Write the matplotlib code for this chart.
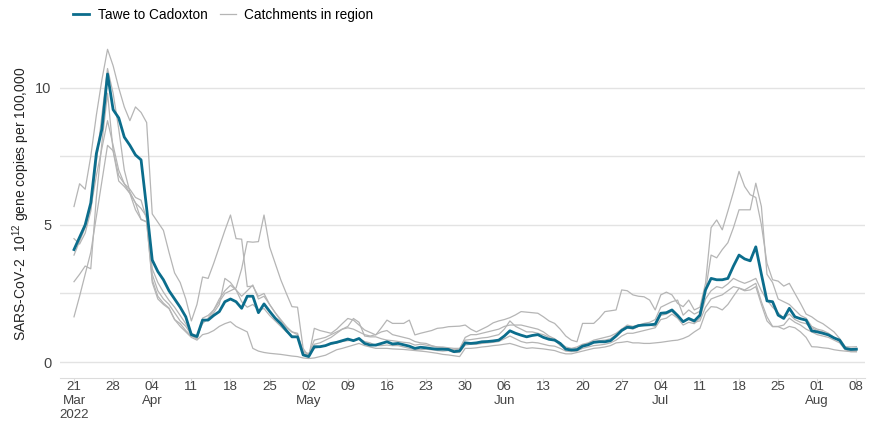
import pandas as pd
import matplotlib
matplotlib.use('Agg')
import matplotlib.pyplot as plt

plt.rcParams['font.family'] = ['Liberation Sans', 'DejaVu Sans']
plt.rcParams['mathtext.fontset'] = 'custom'
plt.rcParams['mathtext.rm'] = 'Liberation Sans'

# daily values, 21 Mar 2022 to 08 Aug 2022
start_date = '2022-03-21'

tawe = [
    4.1, 4.55, 5.0, 5.8, 7.6, 8.5, 10.5,
    9.2, 8.9, 8.2, 7.9, 7.55, 7.37, 5.6,
    3.72, 3.3, 3.0, 2.6, 2.3, 2.0, 1.65,
    1.0, 0.93, 1.53, 1.53, 1.7, 1.84, 2.2,
    2.3, 2.2, 1.96, 2.4, 2.4, 1.8, 2.12,
    1.85, 1.6, 1.4, 1.15, 0.92, 0.92, 0.26,
    0.2, 0.56, 0.56, 0.6, 0.68, 0.72, 0.78,
    0.84, 0.78, 0.86, 0.68, 0.62, 0.62, 0.68,
    0.74, 0.66, 0.68, 0.63, 0.58, 0.5, 0.54,
    0.52, 0.49, 0.47, 0.47, 0.46, 0.38, 0.41,
    0.7, 0.68, 0.7, 0.74, 0.75, 0.77, 0.8,
    0.95, 1.14, 1.05, 0.98, 0.92, 0.97, 1.0,
    0.9, 0.83, 0.8, 0.68, 0.47, 0.44, 0.45,
    0.58, 0.63, 0.72, 0.74, 0.74, 0.78, 0.95,
    1.15, 1.27, 1.25, 1.33, 1.35, 1.36, 1.38,
    1.78, 1.8, 1.9, 1.7, 1.47, 1.59, 1.5,
    1.71, 2.63, 3.05, 3.0, 3.0, 3.05, 3.5,
    3.9, 3.76, 3.69, 4.2, 3.2, 2.23, 2.2,
    1.71, 1.59, 1.96, 1.65, 1.58, 1.53, 1.14,
    1.1, 1.05, 0.99, 0.88, 0.8, 0.5, 0.46,
    0.47,
]

catch_a = [
    5.67, 6.5, 6.3, 7.5, 9.0, 10.3, 11.4,
    10.8, 10.0, 9.3, 8.8, 9.3, 9.1, 8.73,
    5.4, 5.1, 4.8, 4.0, 3.25, 2.9, 2.3,
    1.5, 2.1, 3.1, 3.05, 3.6, 4.2, 4.8,
    5.36, 4.5, 4.48, 2.75, 2.77, 2.4, 2.5,
    2.1, 1.8, 1.5, 1.25, 1.1, 1.0, 0.4,
    0.3, 0.65, 0.7, 0.8, 0.9, 1.05, 1.2,
    1.3, 1.59, 1.45, 0.95, 0.92, 0.92, 0.85,
    0.8, 0.78, 0.75, 0.72, 0.7, 0.62, 0.65,
    0.62, 0.58, 0.55, 0.55, 0.52, 0.5, 0.5,
    0.8, 0.82, 0.85, 0.88, 0.9, 0.95, 1.0,
    1.2, 1.5, 1.3, 1.2, 1.1, 1.1, 1.05,
    1.0, 0.9, 0.8, 0.6, 0.5, 0.45, 0.5,
    0.62, 0.68, 0.75, 0.78, 0.8, 0.85, 1.0,
    1.2, 1.35, 1.3, 1.35, 1.41, 1.45, 1.55,
    2.0, 2.1, 2.2, 2.26, 1.71, 1.9, 1.75,
    1.85, 2.6, 3.9, 3.8, 4.1, 4.35, 4.9,
    5.55, 5.55, 5.55, 6.52, 5.67, 3.2, 2.9,
    2.3, 2.2, 2.1, 1.9, 1.7, 1.6, 1.3,
    1.2, 1.15, 1.05, 0.9, 0.75, 0.5, 0.45,
    0.45,
]

catch_b = [
    2.93, 3.2, 3.5, 3.4, 6.0, 8.0, 9.8,
    7.7, 6.8, 6.5, 6.15, 5.55, 5.2, 5.12,
    2.9, 2.3, 2.1, 1.95, 1.55, 1.4, 1.15,
    0.95, 0.85, 1.6, 1.7, 1.9, 2.2, 2.5,
    2.6, 2.7, 3.4, 4.39, 4.37, 4.39, 5.36,
    4.2, 3.6, 3.0, 2.5, 2.02, 2.0, 0.5,
    0.2, 1.23, 1.15, 1.1, 1.05, 1.2, 1.4,
    1.59, 1.53, 1.35, 1.17, 1.08, 0.99, 1.25,
    1.53, 1.41, 1.41, 1.41, 1.53, 0.99, 1.05,
    1.1, 1.15, 1.23, 1.25, 1.29, 1.3, 1.31,
    1.35, 1.2, 1.1, 1.2, 1.3, 1.43, 1.5,
    1.55, 1.62, 1.72, 1.84, 1.82, 1.8, 1.78,
    1.65, 1.5, 1.41, 1.2, 0.95, 0.8, 0.74,
    1.41, 1.41, 1.41, 1.6, 1.84, 1.87, 1.9,
    2.63, 2.6, 2.45, 2.4, 2.38, 2.26, 1.9,
    2.45, 2.55, 2.45, 2.14, 2.02, 2.26, 1.9,
    2.0, 2.87, 4.9, 5.18, 4.82, 5.5, 6.2,
    6.95, 6.4, 6.1, 6.0, 5.0, 3.6, 3.0,
    2.95, 2.77, 2.87, 2.5, 2.14, 1.75, 1.65,
    1.5, 1.4, 1.25, 1.1, 0.86, 0.56, 0.55,
    0.56,
]

catch_c = [
    4.5, 4.3, 4.7, 5.5, 7.3, 9.0, 10.7,
    9.8, 8.5, 7.0, 6.2, 5.8, 5.6, 5.3,
    3.2, 2.6, 2.3, 2.1, 1.8, 1.5, 1.3,
    1.0, 0.85, 1.5, 1.55, 1.8, 2.1, 3.05,
    2.9, 2.63, 2.2, 2.0, 2.1, 1.9, 1.95,
    1.7, 1.5, 1.3, 1.1, 0.95, 0.92, 0.3,
    0.25, 0.5, 0.55, 0.6, 0.65, 0.7, 0.75,
    0.78, 0.8, 0.85, 0.75, 0.7, 0.6, 0.6,
    0.62, 0.6, 0.6, 0.55, 0.5, 0.45, 0.45,
    0.47, 0.45, 0.42, 0.4, 0.42, 0.35, 0.35,
    0.62, 0.65, 0.65, 0.68, 0.7, 0.72, 0.75,
    0.85, 0.95, 0.85, 0.75, 0.7, 0.72, 0.7,
    0.65, 0.6, 0.58, 0.5, 0.4, 0.38, 0.4,
    0.5, 0.55, 0.6, 0.62, 0.65, 0.7, 0.8,
    0.95, 1.05, 1.05, 1.1, 1.15, 1.2, 1.25,
    1.55, 1.6, 1.75, 1.6, 1.35, 1.45, 1.4,
    1.6, 2.3, 2.6, 2.75, 2.7, 2.85, 3.05,
    2.95, 2.87, 2.95, 3.05, 2.6, 2.26, 2.0,
    1.8, 1.6, 1.75, 1.55, 1.45, 1.4, 1.25,
    1.15, 1.1, 1.0, 0.9, 0.75, 0.5, 0.42,
    0.42,
]

catch_d = [
    1.65, 2.4, 3.2, 4.0, 5.3, 6.6, 7.9,
    7.7, 6.6, 6.4, 6.15, 5.8, 5.2, 5.1,
    3.0, 2.4, 2.15, 1.97, 1.55, 1.3, 1.1,
    0.9, 0.8, 1.0, 1.05, 1.15, 1.3, 1.4,
    1.47, 1.3, 1.2, 1.1, 0.5, 0.4, 0.35,
    0.32, 0.3, 0.28, 0.25, 0.22, 0.2, 0.15,
    0.13, 0.15, 0.2, 0.25, 0.35, 0.45, 0.5,
    0.56, 0.62, 0.68, 0.6, 0.55, 0.5, 0.5,
    0.5, 0.48, 0.47, 0.46, 0.44, 0.42, 0.4,
    0.38, 0.35, 0.32, 0.28, 0.26, 0.23, 0.2,
    0.5, 0.5, 0.52, 0.55, 0.57, 0.6, 0.62,
    0.65, 0.68, 0.62, 0.55, 0.5, 0.52, 0.5,
    0.48, 0.45, 0.42, 0.35, 0.3, 0.3, 0.35,
    0.4, 0.45, 0.5, 0.52, 0.55, 0.6, 0.7,
    0.72, 0.75, 0.7, 0.7, 0.68, 0.68, 0.7,
    0.72, 0.75, 0.78, 0.8, 0.86, 0.95, 1.1,
    1.23, 1.8, 2.02, 2.0, 1.9, 2.1, 2.4,
    2.69, 2.6, 2.63, 2.75, 2.1, 1.5, 1.29,
    1.29, 1.2, 1.3, 1.25, 1.1, 0.9, 0.56,
    0.55, 0.52, 0.5, 0.45, 0.42, 0.4, 0.38,
    0.38,
]

catch_e = [
    3.9, 4.4, 4.9, 5.6, 6.8, 7.8, 8.8,
    7.9, 7.0, 6.5, 6.3, 6.0, 5.9, 5.2,
    3.4, 2.9, 2.55, 2.25, 2.0, 1.7, 1.4,
    1.05, 0.95, 1.4, 1.6, 1.9, 2.3, 2.6,
    2.8, 2.63, 2.4, 2.6, 2.81, 2.3, 2.4,
    2.1, 1.8, 1.55, 1.3, 1.1, 1.05, 0.35,
    0.3, 0.8, 0.85, 0.9, 1.0, 1.1, 1.2,
    1.25, 1.2, 1.1, 1.0, 0.95, 1.0, 1.1,
    1.15, 1.0, 0.95, 0.9, 0.85, 0.75, 0.7,
    0.68, 0.6, 0.55, 0.52, 0.5, 0.45, 0.48,
    0.9, 1.0, 1.0, 1.05, 1.1, 1.15, 1.2,
    1.3, 1.35, 1.35, 1.35, 1.3, 1.25, 1.2,
    1.1, 0.95, 0.85, 0.7, 0.55, 0.5, 0.55,
    0.65, 0.7, 0.8, 0.85, 0.9, 0.95, 1.05,
    1.2, 1.25, 1.2, 1.3, 1.4, 1.35, 1.3,
    1.7, 1.75, 1.85, 1.65, 1.5, 1.55, 1.45,
    1.5, 2.0, 2.3, 2.38, 2.45, 2.6, 2.75,
    2.7, 2.63, 2.75, 2.87, 2.2, 1.65, 1.3,
    1.3, 1.35, 1.6, 1.45, 1.35, 1.2, 1.1,
    1.0, 0.95, 0.9, 0.8, 0.7, 0.45, 0.38,
    0.38,
]

dates = pd.date_range(start_date, periods=len(tawe), freq='D')
catchments = [catch_a, catch_b, catch_c, catch_d, catch_e]

teal = '#0b6d8c'
grey = '#b5b5b5'

fig = plt.figure(figsize=(8.7, 4.23), dpi=100)
ax = fig.add_axes([0.069, 0.1064, 0.925, 0.79])

for i, c in enumerate(catchments):
    ax.plot(dates, c, color=grey, linewidth=0.9,
            label='Catchments in region' if i == 0 else None, zorder=2)
ax.plot(dates, tawe, color=teal, linewidth=2.0, label='Tawe to Cadoxton', zorder=3)

ax.set_ylim(-0.58, 11.6)
ax.set_yticks([0, 2.5, 5, 7.5, 10])
ax.set_yticklabels(['0', '', '5', '', '10'])
ax.set_xlim(dates[0] - pd.Timedelta(days=2.5), dates[-1] + pd.Timedelta(days=1.5))

ticks = pd.date_range(start_date, dates[-1], freq='7D')
labels = []
prev_month = None
for i, t in enumerate(ticks):
    lab = t.strftime('%d')
    if t.month != prev_month:
        lab += '\n' + t.strftime('%b')
    if i == 0:
        lab += '\n' + t.strftime('%Y')
    prev_month = t.month
    labels.append(lab)
ax.set_xticks(ticks)
ax.set_xticklabels(labels, fontsize=9.6, color='#444444', linespacing=1.25)

ax.grid(axis='y', color='#e3e3e3', linewidth=1.0)
ax.set_axisbelow(True)
for s in ['top', 'right', 'left']:
    ax.spines[s].set_visible(False)
ax.spines['bottom'].set_color('#dcdcdc')
ax.tick_params(axis='y', length=0, labelsize=10.5, labelcolor='#444444', pad=6)
ax.tick_params(axis='x', length=3, color='#dcdcdc', pad=-1)

ax.set_ylabel('SARS-CoV-2  10$^{12}$ gene copies per 100,000', fontsize=10,
              color='#222222')
ax.yaxis.set_label_coords(-0.035, 0.52)

handles, labs = ax.get_legend_handles_labels()
fig.legend(handles[::-1], labs[::-1], loc='upper left', bbox_to_anchor=(0.07, 1.01),
           ncol=2, frameon=False, fontsize=9.8, handlelength=1.2,
           handletextpad=0.6, columnspacing=0.9)

plt.savefig('out.png', dpi=100)
